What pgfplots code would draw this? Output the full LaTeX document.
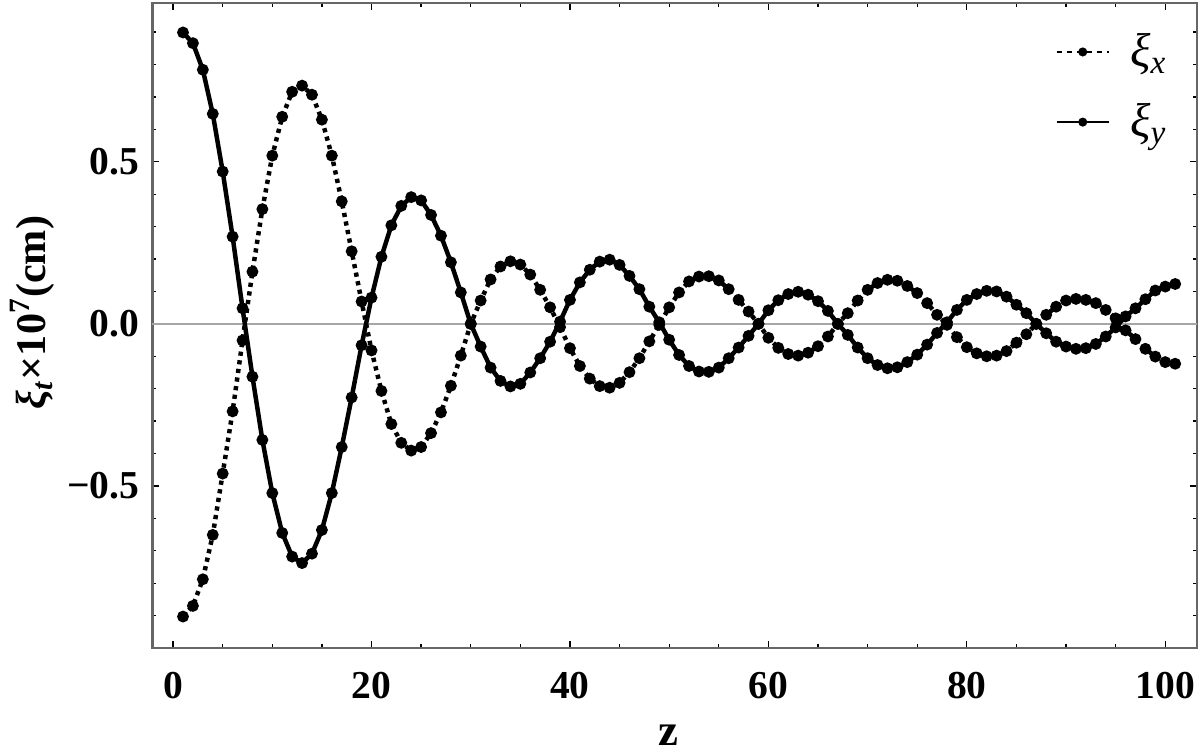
\documentclass[border=0pt]{standalone}
\usepackage{fontspec}
\setmainfont{Liberation Serif}
\usepackage{pgfplots}
\usepackage{pgfplotstable}
\pgfplotsset{compat=1.18}

% z, xi_x, xi_y
\pgfplotstableread{
z xix xiy
1 -0.903 0.899
2 -0.870 0.866
3 -0.788 0.784
4 -0.651 0.648
5 -0.462 0.470
6 -0.270 0.269
7 -0.051 0.048
8 0.161 -0.163
9 0.354 -0.358
10 0.519 -0.522
11 0.639 -0.645
12 0.716 -0.718
13 0.735 -0.738
14 0.707 -0.709
15 0.630 -0.636
16 0.519 -0.522
17 0.378 -0.380
18 0.224 -0.227
19 0.069 -0.066
20 -0.082 0.081
21 -0.207 0.207
22 -0.309 0.304
23 -0.367 0.364
24 -0.391 0.391
25 -0.380 0.381
26 -0.337 0.336
27 -0.273 0.272
28 -0.191 0.190
29 -0.098 0.097
30 0.000 0.000
31 0.072 -0.070
32 0.137 -0.135
33 0.177 -0.176
34 0.193 -0.193
35 0.183 -0.185
36 0.152 -0.150
37 0.105 -0.106
38 0.051 -0.055
39 -0.010 0.007
40 -0.075 0.074
41 -0.130 0.128
42 -0.169 0.167
43 -0.192 0.192
44 -0.197 0.198
45 -0.182 0.182
46 -0.149 0.148
47 -0.106 0.107
48 -0.054 0.053
49 -0.003 0.005
50 0.051 -0.049
51 0.097 -0.096
52 0.131 -0.130
53 0.146 -0.147
54 0.147 -0.148
55 0.134 -0.135
56 0.107 -0.106
57 0.074 -0.073
58 0.038 -0.037
59 0.000 0.000
60 -0.043 0.042
61 -0.074 0.073
62 -0.093 0.092
63 -0.098 0.099
64 -0.089 0.090
65 -0.069 0.070
66 -0.039 0.040
67 0.000 0.000
68 0.033 -0.034
69 0.072 -0.073
70 0.105 -0.106
71 0.126 -0.127
72 0.136 -0.137
73 0.133 -0.134
74 0.117 -0.118
75 0.095 -0.095
76 0.064 -0.064
77 0.028 -0.028
78 -0.003 0.005
79 -0.041 0.043
80 -0.072 0.074
81 -0.091 0.092
82 -0.100 0.102
83 -0.098 0.100
84 -0.084 0.084
85 -0.058 0.059
86 -0.032 0.033
87 0.000 0.000
88 0.028 -0.029
89 0.053 -0.055
90 0.072 -0.070
91 0.077 -0.077
92 0.074 -0.075
93 0.064 -0.062
94 0.043 -0.039
95 0.017 -0.011
96 -0.020 0.023
97 -0.047 0.048
98 -0.077 0.076
99 -0.101 0.103
100 -0.118 0.115
101 -0.123 0.123
}\xidata

\begin{document}
\begin{tikzpicture}
\begin{axis}[
  scale only axis,
  width=13.93cm, height=8.6cm,
  xmin=-2.1, xmax=103.2,
  ymin=-1.0, ymax=0.99,
  axis line style={black!60, line width=1pt},
  xtick={0,20,40,60,80,100},
  xticklabels={0,20,40,60,80,100},
  minor xtick={5,10,15,25,30,35,45,50,55,65,70,75,85,90,95},
  ytick={-0.5,0,0.5},
  yticklabels={−0.5,0.0,0.5},
  minor ytick={-0.9,-0.8,-0.7,-0.6,-0.4,-0.3,-0.2,-0.1,0.1,0.2,0.3,0.4,0.6,0.7,0.8,0.9},
  tick align=inside,
  major tick length=2.6pt, minor tick length=1.5pt,
  tick style={black, line width=0.5pt},
  ticklabel style={font=\bfseries\fontsize{15}{18}\selectfont},
  xticklabel style={yshift=-0.2cm},
  yticklabel style={xshift=-0.05cm},
  extra y ticks={0}, extra y tick labels={},
  extra y tick style={grid=major, major grid style={black!35, line width=0.6pt}, major tick length=0pt},
  xlabel={z},
  xlabel style={at={(axis description cs:0.494,-0.135)}, anchor=center, font=\bfseries\fontsize{17}{20}\selectfont},
  ylabel={\textit{ξ}\textsubscript{\textit{t}}×10\textsuperscript{7}(cm)},
  ylabel style={at={(axis description cs:-0.115,0.52)}, anchor=center, font=\bfseries\fontsize{16}{19}\selectfont},
  legend cell align=left,
  legend style={draw=none, fill=none, at={(axis description cs:0.984,0.97)}, anchor=north east,
    font=\fontsize{18}{20}\selectfont, row sep=0.3cm, column sep=0.2cm},
  legend image code/.code={\draw[mark repeat=2, mark phase=2, #1, line width=0.7pt]
    plot coordinates {(0cm,0cm) (0.35cm,0cm) (0.7cm,0cm)};},
]
\coordinate (sw) at (rel axis cs:0,0);
\coordinate (ne) at (rel axis cs:1,1);
\addplot[black, line width=1.7pt, dash pattern=on 1.6pt off 1.7pt, mark=*, mark size=1.35pt, mark options={solid},
  legend image post style={dash pattern=on 2.2pt off 1.6pt}]
  table[x=z, y=xix] {\xidata};
\addlegendentry{\textit{ξ\textsubscript{x}}}
\addplot[black, line width=1.7pt, mark=*, mark size=1.35pt]
  table[x=z, y=xiy] {\xidata};
\addlegendentry{\textit{ξ\textsubscript{y}}}
\end{axis}
\path (sw) ++(-2.03cm,-1.39cm) coordinate (bbl);
\path (ne) ++(0.04cm,0.04cm) coordinate (bbr);
\pgfresetboundingbox
\path (bbl) rectangle (bbr);
\end{tikzpicture}
\end{document}
